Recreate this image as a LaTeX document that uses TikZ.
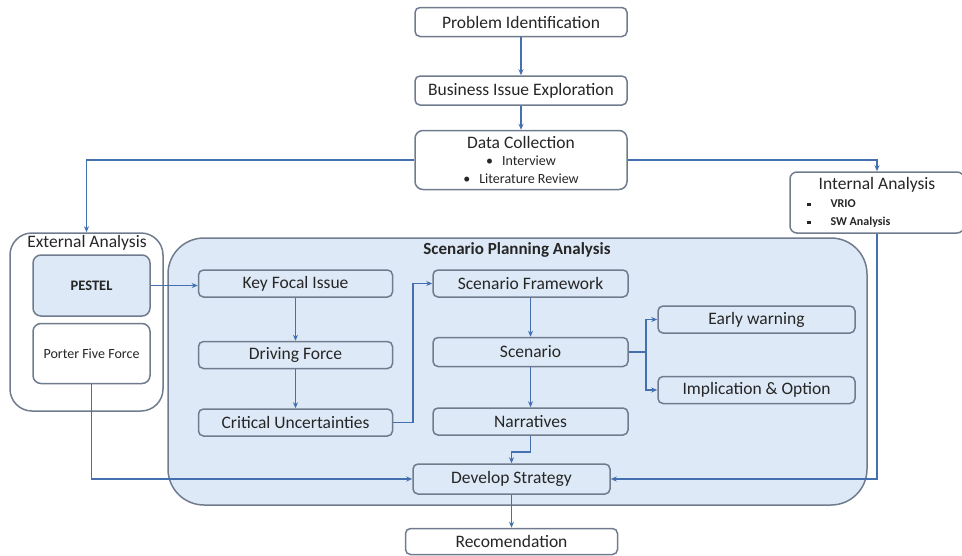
\documentclass[tikz,border=0pt]{standalone}
\usepackage{fontspec}
\setmainfont{Carlito}
\usepackage{tikz}
\usetikzlibrary{arrows.meta,positioning}
\definecolor{colLine}{RGB}{68,112,176}
\definecolor{colEdge}{RGB}{112,124,142}
\definecolor{colFill}{RGB}{221,233,246}
\definecolor{colText}{RGB}{38,38,38}
\newcommand{\sqbul}{\rule[1.5pt]{3.5pt}{3.5pt}}
\newcommand{\mainfont}{\fontsize{17.5}{19}\selectfont}
\tikzset{
  wblock/.style = {rectangle, rounded corners=5pt, draw=colEdge, line width=1.5pt,
                   fill=white, text centered, minimum height=29pt, inner sep=2pt,
                   minimum width=212pt, font=\mainfont, text=colText},
  bblock/.style = {rectangle, rounded corners=5pt, draw=colEdge, line width=1.5pt,
                   fill=colFill, text centered, minimum height=27pt, inner sep=2pt,
                   minimum width=194pt, font=\mainfont, text=colText},
  grpbox/.style = {rectangle, draw=colEdge, line width=1.5pt, inner sep=0pt},
  arr/.style    = {-{Stealth[length=6pt,width=5pt]}, line width=1.6pt, draw=colLine},
}
\begin{document}
\begin{tikzpicture}[x=1pt, y=-1pt, node distance=38pt]
\useasboundingbox (0,0) rectangle (962,555);

%% ── Groups ────────────────────────────────────────────────
\node[grpbox, fill=colFill, rounded corners=36pt, minimum width=699pt,
      minimum height=267pt] (spa) at (517.5,371.5) {};
\node[font=\fontsize{17}{19}\selectfont\bfseries, text=colText] (spatitle) at (517,250)
  {Scenario Planning Analysis};
\node[grpbox, fill=white, rounded corners=22pt, minimum width=153pt,
      minimum height=178pt] (ext) at (86.5,322) {};
\node[font=\fontsize{17.5}{19}\selectfont, text=colText, inner sep=0pt] (exttitle) at (87,243)
  {External Analysis};

%% ── Top chain ─────────────────────────────────────────────
\node[wblock] (pi) at (521,22) {Problem Identification};
\node[wblock, below=of pi] (bie) {Business Issue Exploration};
\node[wblock, below=24pt of bie, minimum height=59pt, rounded corners=8pt,
      align=center] (dc)
  {Data Collection\\[-2pt]
   {\fontsize{14}{15}\selectfont\textbullet\hspace{9pt}Interview}\\[-1pt]
   {\fontsize{14}{15}\selectfont\textbullet\hspace{9pt}Literature Review}};

%% ── Side analyses ─────────────────────────────────────────
\node[wblock, minimum width=174pt, minimum height=61pt, rounded corners=7pt,
      align=left] (ia) at (877,202.5)
  {\makebox[166pt][c]{Internal Analysis}\\[-1pt]
   {\fontsize{12}{13}\selectfont\bfseries\hspace{13pt}\sqbul\hspace{20pt}VRIO}\\[-1pt]
   {\fontsize{12}{13}\selectfont\bfseries\hspace{13pt}\sqbul\hspace{20pt}SW Analysis}};
\node[bblock, minimum width=117pt, minimum height=61pt, rounded corners=8pt,
      font=\fontsize{14.5}{16}\selectfont\bfseries] (pestel) at (91.5,285.5) {PESTEL};
\node[wblock, minimum width=117pt, minimum height=60pt, rounded corners=8pt,
      font=\fontsize{14}{16}\selectfont, below=6pt of pestel] (porter) {Porter Five Force};

%% ── Scenario planning ─────────────────────────────────────
\node[bblock] (kfi) at (295.5,283.5) {Key Focal Issue};
\node[bblock, below=43pt of kfi] (df) {Driving Force};
\node[bblock, below=39pt of df]  (cu) {Critical Uncertainties};
\node[bblock, minimum width=195pt] (sf) at (530.5,283.5) {Scenario Framework};
\node[bblock, minimum width=195pt, minimum height=29pt, below=39pt of sf] (sc) {Scenario};
\node[bblock, minimum width=195pt, below=40pt of sc] (nar) {Narratives};
\node[bblock, minimum width=197pt] (ew) at (756.5,319.5) {Early warning};
\node[bblock, minimum width=197pt, below=42pt of ew] (imp) {Implication \& Option};
\node[bblock, minimum width=197pt, minimum height=30pt] (ds) at (511.5,479) {Develop Strategy};
\node[wblock, minimum height=26pt, below=33pt of ds] (rec) {Recomendation};

%% ── Arrows: top chain ─────────────────────────────────────
\draw[arr] (pi)  -- (bie);
\draw[arr] (bie) -- (dc);
\draw[arr] (dc.west) -| (ext.north);
\draw[arr] (dc.east) -| (ia.north);

%% ── Arrows: scenario planning ─────────────────────────────
\draw[arr] (pestel.east) -- (kfi.west |- pestel.east);
\draw[arr] (kfi) -- (df);
\draw[arr] (df)  -- (cu);
\draw[arr] (cu.east) -- ++(20,0) |- (sf.west);
\draw[arr] (sf)  -- (sc);
\draw[arr] (sc)  -- (nar);
\draw[arr] (sc.east) -- ++(17,0) |- (ew.west);
\draw[arr] (sc.east) -- ++(17,0) |- (imp.west);
\draw[arr] (nar.south) -- ++(0,16) -| (ds.north);

%% ── Arrows: into strategy ─────────────────────────────────
\draw[arr] (porter.south) |- (ds.west);
\draw[arr] (ia.south) |- (ds.east);
\draw[arr] (ds) -- (rec);

\end{tikzpicture}
\end{document}
